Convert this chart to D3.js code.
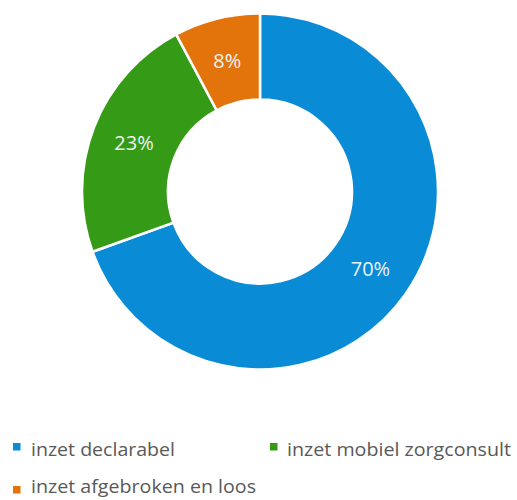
<!DOCTYPE html>
<html>
<head>
<meta charset="utf-8">
<script src="https://cdn.jsdelivr.net/npm/d3@7"></script>
<style>
html,body{margin:0;padding:0;background:#fff;}
svg{display:block;}
</style>
</head>
<body>
<svg id="chart" width="517" height="500"></svg>
<script>
const categories = ["inzet declarabel", "inzet mobiel zorgconsult", "inzet afgebroken en loos"];
const values = [69.5, 22.7, 7.8];
const labels = ["70%", "23%", "8%"];
const colors = ["#0a8bd6", "#359a15", "#e2740b"];

const svg = d3.select("#chart");
const cx = 260, cy = 191.5, rOuter = 178, rInner = 92;

const pie = d3.pie().sort(null).value(d => d)(values);
const arc = d3.arc().innerRadius(rInner).outerRadius(rOuter);

const g = svg.append("g").attr("transform", `translate(${cx},${cy})`);
g.selectAll("path").data(pie).join("path")
  .attr("d", arc)
  .attr("fill", (d, i) => colors[i])
  .attr("stroke", "#fff")
  .attr("stroke-width", 2.5)
  .attr("stroke-linejoin", "miter");

g.selectAll("text").data(pie).join("text")
  .attr("transform", d => `translate(${arc.centroid(d)})`)
  .attr("text-anchor", "middle")
  .attr("dy", "0.36em")
  .attr("font-family", "Open Sans, sans-serif")
  .attr("font-size", 20)
  .attr("fill", "#eef3f6")
  .text((d, i) => labels[i]);

const legendPos = [[13, 443, 31, 455.5, 144], [270, 443, 287, 455.5, 224], [13, 486, 31, 493, 225]];
const lg = svg.append("g");
categories.forEach((c, i) => {
  const p = legendPos[i];
  lg.append("rect").attr("x", p[0]).attr("y", p[1]).attr("width", 7.5).attr("height", 7.5).attr("fill", colors[i]);
  lg.append("text").attr("x", p[2]).attr("y", p[3])
    .attr("font-family", "Open Sans, sans-serif")
    .attr("font-size", 19)
    .attr("fill", "#595959")
    .attr("textLength", p[4])
    .attr("lengthAdjust", "spacingAndGlyphs")
    .text(c);
});
</script>
</body>
</html>
